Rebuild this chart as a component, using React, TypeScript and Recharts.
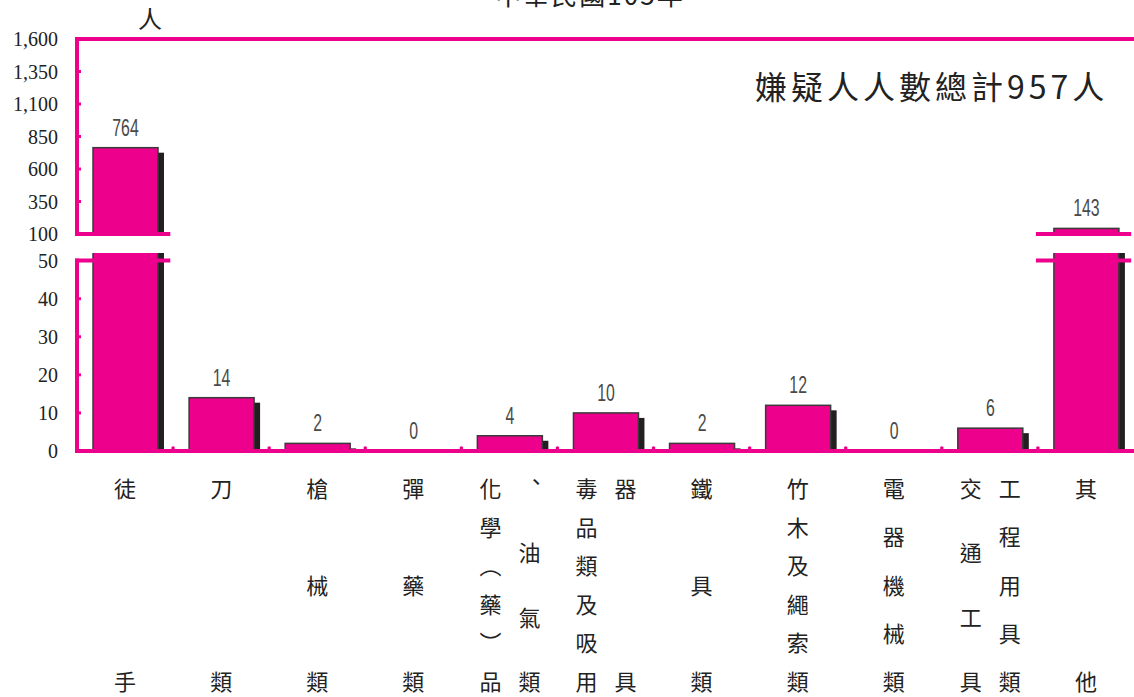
import { BarChart, Bar, XAxis, YAxis, ReferenceLine, ReferenceDot, LabelList } from "recharts";

const PINK = "#EC008C";
const INK = "#231F20";
const CJK = "'Noto Sans CJK TC', 'Noto Sans CJK SC', sans-serif";
const SERIF = "'Liberation Serif', 'DejaVu Serif', serif";
const THIN = "'Liberation Sans', 'DejaVu Sans', sans-serif";

const categories = [
  "徒手",
  "刀類",
  "槍械類",
  "彈藥類",
  "化學(藥)品、油氣類",
  "毒品類及吸用器具",
  "鐵具類",
  "竹木及繩索類",
  "電器機械類",
  "交通工具、工程用具類",
  "其他",
];

// vertical label columns, one inner array per category
const labelColumns = [
  ["徒手"],
  ["刀類"],
  ["槍械類"],
  ["彈藥類"],
  ["化學︵藥︶品", "︑油氣類"],
  ["毒品類及吸用", "器具"],
  ["鐵具類"],
  ["竹木及繩索類"],
  ["電器機械類"],
  ["交通工具", "工程用具類"],
  ["其他"],
];

const suspects = [764, 14, 2, 0, 4, 10, 2, 12, 0, 6, 143];

const upperTicks = [100, 350, 600, 850, 1100, 1350, 1600];
const lowerTicks = [0, 10, 20, 30, 40, 50];

const UPPER_MIN = 100;
const UPPER_MAX = 1600;
const LOWER_MAX = 50;
const LOWER_TOP = 52;

const data = categories.map((name, i) => ({ name, x: i + 0.5, value: suspects[i] }));
const slots = data.map((d) => d.x);
const boundaries = categories.slice(1).map((_, i) => i + 1);

const makeShape = (minValue: number) => (p: any) => {
  const v = p.payload?.value ?? 0;
  if (v <= minValue || !(p.height > 0)) return <g />;
  const { x, y, width, height } = p;
  return (
    <g>
      <rect x={x + 6} y={y + 5} width={width} height={height} fill={INK} />
      <rect x={x} y={y} width={width} height={height} fill={PINK} stroke="#3a3a3a" strokeWidth={1.5} />
    </g>
  );
};

const makeLabel = (show: (v: number) => boolean) => (p: any) => {
  const v = Number(p.value);
  if (!show(v)) return null;
  const x = p.x ?? p.viewBox?.x ?? 0;
  const y = p.y ?? p.viewBox?.y ?? 0;
  const w = p.width ?? p.viewBox?.width ?? 0;
  // narrow, light-looking numerals
  return (
    <g transform={`translate(${x + w / 2}, ${y - 12}) scale(0.66, 1)`}>
      <text x={0} y={0} textAnchor="middle" fontFamily={THIN} fontSize={24} fill="#4a4a4a">
        {v}
      </text>
    </g>
  );
};

const CategoryTick = (p: any) => {
  const idx = Math.floor(p.payload?.value ?? 0);
  const cols = labelColumns[idx] ?? [];
  const offsets = cols.length === 2 ? [-19, 20] : [0];
  const first = p.y + 36;
  const last = p.y + 229;
  return (
    <g>
      {cols.map((col, c) => {
        const chars = Array.from(col);
        const step = chars.length > 1 ? (last - first) / (chars.length - 1) : 0;
        return chars.map((ch, k) => (
          <text
            key={`${c}-${k}`}
            x={p.x + offsets[c]}
            y={first + k * step}
            textAnchor="middle"
            dominantBaseline="central"
            fontFamily={CJK}
            fontSize={22}
            fill="#222"
          >
            {ch}
          </text>
        ));
      })}
    </g>
  );
};

const yTick = { fontFamily: SERIF, fontSize: 20, fill: "#222" };

export default function App() {
  return (
    <div style={{ position: "absolute", left: 0, top: 0, width: 1134, height: 697, background: "#fff", overflow: "hidden" }}>
      <div style={{ position: "absolute", left: 0, top: 0 }}>
        <BarChart width={1134} height={252} data={data} margin={{ top: 39, right: 0, bottom: 18, left: 0 }}>
          <XAxis type="number" dataKey="x" domain={[0, 11]} hide />
          <YAxis
            domain={[UPPER_MIN, UPPER_MAX]}
            allowDataOverflow
            ticks={upperTicks}
            interval={0}
            width={77}
            tickFormatter={(v: number) => v.toLocaleString("en-US")}
            tick={yTick}
            axisLine={{ stroke: PINK, strokeWidth: 4 }}
            tickLine={{ stroke: PINK, strokeWidth: 3 }}
            tickSize={-4}
            tickMargin={23}
          />
          <Bar dataKey="value" barSize={65} isAnimationActive={false} shape={makeShape(UPPER_MIN)}>
            <LabelList dataKey="value" content={makeLabel((v) => v > UPPER_MIN)} />
          </Bar>
          <ReferenceLine y={UPPER_MAX} stroke={PINK} strokeWidth={4} strokeLinecap="square" />
          {data
            .filter((d) => d.value > UPPER_MIN)
            .map((d) => (
              <ReferenceLine
                key={`u-${d.name}`}
                segment={[
                  { x: d.x - 0.5, y: UPPER_MIN },
                  { x: d.x + 0.45, y: UPPER_MIN },
                ]}
                stroke={PINK}
                strokeWidth={4}
                strokeLinecap="square"
              />
            ))}
        </BarChart>
      </div>
      <div style={{ position: "absolute", left: 0, top: 0 }}>
        <BarChart width={1134} height={697} data={data} margin={{ top: 253, right: 0, bottom: 0, left: 0 }}>
          <XAxis
            type="number"
            dataKey="x"
            domain={[0, 11]}
            ticks={slots}
            interval={0}
            height={246}
            tick={<CategoryTick />}
            tickLine={false}
            tickSize={0}
            tickMargin={0}
            axisLine={{ stroke: PINK, strokeWidth: 4 }}
          />
          <YAxis
            domain={[0, LOWER_TOP]}
            allowDataOverflow
            ticks={lowerTicks}
            interval={0}
            width={77}
            tick={yTick}
            axisLine={false}
            tickLine={{ stroke: PINK, strokeWidth: 3 }}
            tickSize={-4}
            tickMargin={23}
          />
          <Bar dataKey="value" barSize={65} isAnimationActive={false} shape={makeShape(0)}>
            <LabelList dataKey="value" content={makeLabel((v) => v <= LOWER_MAX)} />
          </Bar>
          <ReferenceLine
            segment={[
              { x: 0, y: 0 },
              { x: 0, y: LOWER_MAX },
            ]}
            stroke={PINK}
            strokeWidth={4}
            strokeLinecap="square"
          />
          {data
            .filter((d) => d.value > LOWER_MAX)
            .map((d) => (
              <ReferenceLine
                key={`l-${d.name}`}
                segment={[
                  { x: d.x - 0.5, y: LOWER_MAX },
                  { x: d.x + 0.45, y: LOWER_MAX },
                ]}
                stroke={PINK}
                strokeWidth={4}
                strokeLinecap="square"
              />
            ))}
          {boundaries.map((b) => (
            <ReferenceDot
              key={`b-${b}`}
              x={b}
              y={0}
              r={2}
              shape={(p: any) => <circle cx={p.cx} cy={p.cy - 3} r={1.8} fill={PINK} />}
            />
          ))}
        </BarChart>
      </div>
      <svg width={1134} height={697} style={{ position: "absolute", left: 0, top: 0, pointerEvents: "none" }}>
        <text x={590} y={5} textAnchor="middle" fontFamily={CJK} fontSize={26} letterSpacing={2} fill="#222">
          中華民國105年
        </text>
        <text x={150} y={28} textAnchor="middle" fontFamily={CJK} fontSize={24} fill="#222">
          人
        </text>
        <text x={755} y={99} fontFamily={CJK} fontSize={32} letterSpacing={4} fill="#222">
          嫌疑人人數總計957人
        </text>
      </svg>
    </div>
  );
}
